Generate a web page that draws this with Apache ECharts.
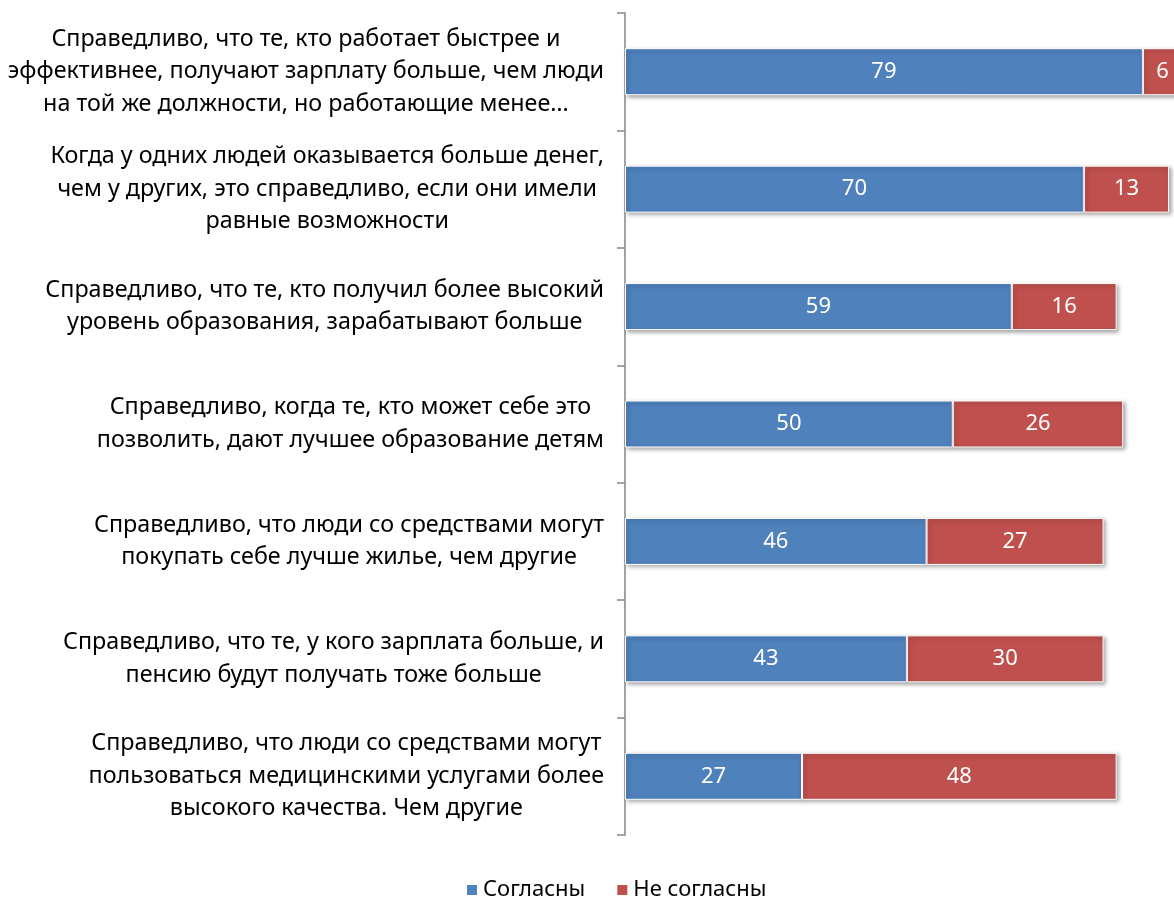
<!DOCTYPE html>
<html>
<head>
<meta charset="utf-8">
<script src="https://cdn.jsdelivr.net/npm/echarts@6/dist/echarts.min.js"></script>
<style>
html,body{margin:0;padding:0;background:#fff;}
#chart{width:1174px;height:900px;}
</style>
</head>
<body>
<div id="chart"></div>
<script>
var categories = [
  "Справедливо, что те, кто работает быстрее и\nэффективнее, получают зарплату больше, чем люди\nна той же должности, но работающие менее…",
  "Когда у одних людей оказывается больше денег,\nчем у других, это справедливо, если они имели\nравные возможности",
  "Справедливо, что те, кто получил более высокий\nуровень образования, зарабатывают больше",
  "Справедливо, когда те, кто может себе это\nпозволить, дают лучшее образование детям",
  "Справедливо, что люди со средствами могут\nпокупать себе лучше жилье, чем другие",
  "Справедливо, что те, у кого зарплата больше, и\nпенсию будут получать тоже больше",
  "Справедливо, что люди со средствами могут\nпользоваться медицинскими услугами более\nвысокого качества. Чем другие"
];
var agree = [79, 70, 59, 50, 46, 43, 27];
var disagree = [6, 13, 16, 26, 27, 30, 48];
var seriesNames = ["Согласны", "Не согласны"];

var FONT = "'Noto Sans', 'DejaVu Sans', sans-serif";
var chart = echarts.init(document.getElementById('chart'));

function barStyle(color) {
  return {
    color: color,
    borderColor: '#ffffff',
    borderWidth: 1,
    shadowColor: 'rgba(0,0,0,0.35)',
    shadowBlur: 4,
    shadowOffsetX: 2,
    shadowOffsetY: 2
  };
}
var labelStyle = {
  show: true,
  position: 'inside',
  color: '#ffffff',
  fontFamily: FONT,
  fontSize: 22
};

chart.setOption({
  animation: false,
  backgroundColor: '#ffffff',
  grid: { left: 625, right: 0, top: 13, bottom: 65, containLabel: false },
  legend: {
    top: 874,
    left: 460,
    itemWidth: 12,
    itemHeight: 12,
    itemGap: 30,
    icon: 'rect',
    textStyle: { fontFamily: FONT, fontSize: 22, color: '#000' },
    data: seriesNames
  },
  xAxis: {
    type: 'value',
    min: 0,
    max: 83.75,
    show: false
  },
  yAxis: {
    type: 'category',
    inverse: true,
    data: categories,
    axisLine: { show: true, lineStyle: { color: '#868686', width: 1.5 } },
    axisTick: { show: true, length: 8, lineStyle: { color: '#868686', width: 1.5 } },
    axisLabel: {
      margin: 21,
      align: 'right',
      color: '#000',
      fontFamily: FONT,
      fontSize: 23.3,
      lineHeight: 32.5,
      formatter: function (v) {
        return v.split('\n').map(function (l) { return '{c|' + l + '}'; }).join('\n');
      },
      rich: { c: { align: 'center', fontFamily: FONT, fontSize: 23.3, lineHeight: 32.5, color: '#000' } }
    }
  },
  series: [
    {
      name: seriesNames[0],
      type: 'bar',
      stack: 'total',
      clip: false,
      barWidth: 47,
      data: agree,
      itemStyle: barStyle('#4F81BD'),
      label: labelStyle
    },
    {
      name: seriesNames[1],
      type: 'bar',
      stack: 'total',
      clip: false,
      barWidth: 47,
      data: disagree,
      itemStyle: barStyle('#C0504D'),
      label: labelStyle
    }
  ]
});
</script>
</body>
</html>
